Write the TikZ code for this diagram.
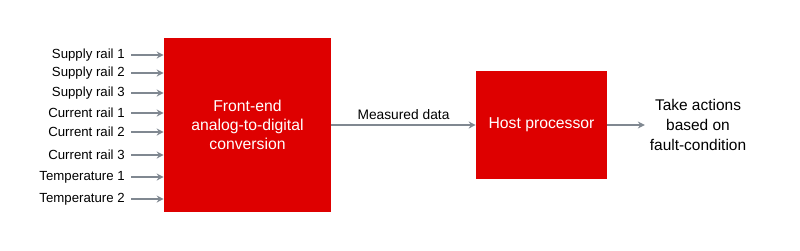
\documentclass[tikz,border=0pt]{standalone}
\usepackage{fontspec}
\setmainfont{Liberation Sans}
\usetikzlibrary{arrows.meta, positioning}
\definecolor{blockred}{RGB}{222,0,0}
\definecolor{wiregray}{RGB}{128,136,145}

\begin{document}
\begin{tikzpicture}[
    x=0.025cm, y=-0.025cm,
    block/.style={rectangle, fill=blockred, draw=none, text=white,
                  font=\fontsize{11.2}{13.6}\selectfont, align=center},
    inlbl/.style={anchor=east, inner xsep=0.15cm, inner ysep=0pt,
                  font=\fontsize{9.4}{11}\selectfont},
    arr/.style={-{Stealth[length=5pt, width=5pt]}, wiregray, thick}
  ]

    \useasboundingbox (0,0) rectangle (800,250);

    % blocks
    \node[block, minimum width=4.175cm, minimum height=4.35cm] (adc) at (247.5,125)
      {Front-end\\analog-to-digital\\conversion};
    \node[block, minimum width=3.275cm, minimum height=2.7cm] (host) at (541.5,125)
      {Host processor};
    \node[align=center, font=\fontsize{11}{14}\selectfont] (act) at (698,125)
      {Take actions\\based on\\fault-condition};

    % inputs
    \foreach \name/\txt/\yy in {s1/Supply rail 1/55, s2/Supply rail 2/73,
        s3/Supply rail 3/93, c1/Current rail 1/113, c2/Current rail 2/132,
        c3/Current rail 3/155, t1/Temperature 1/177, t2/Temperature 2/199} {
      \node[inlbl] (\name) at (131,\yy) {\txt};
      \draw[arr] (\name.east) -- (\name.east -| adc.west);
    }

    \draw[arr] (adc) -- node[above, text=black, font=\fontsize{9.8}{11}\selectfont]{Measured data} (host);
    \draw[arr] (host) -- (act);

  \end{tikzpicture}
\end{document}
